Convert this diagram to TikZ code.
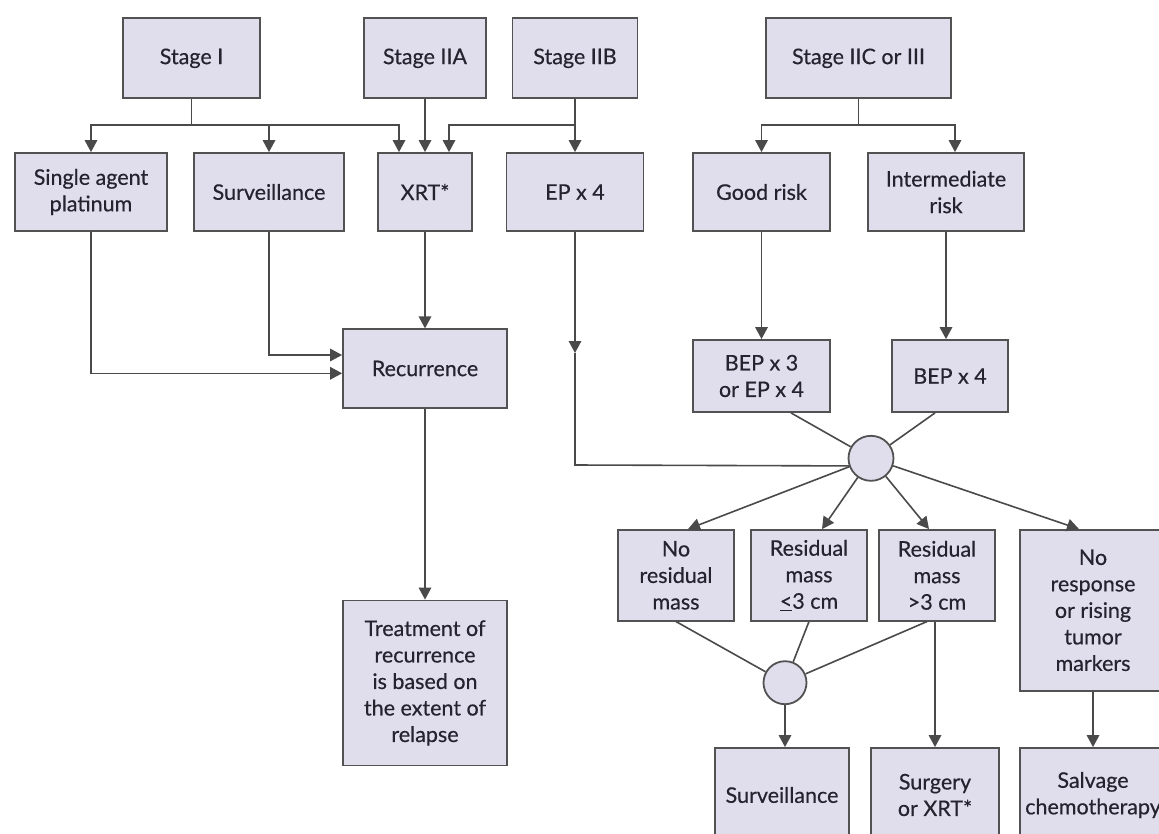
\documentclass[tikz,border=0pt]{standalone}
\usepackage{fontspec}
\setmainfont{Lato}[FakeBold=0.4]
\usetikzlibrary{arrows.meta}
\definecolor{boxfill}{HTML}{E0DDED}
\definecolor{boxline}{HTML}{525252}
\definecolor{wire}{HTML}{4A4A4A}
\definecolor{ink}{HTML}{24232E}

\begin{document}
\begin{tikzpicture}[x=1pt,y=-1pt,
  box/.style={draw=boxline, line width=1.8pt, fill=boxfill, text=ink,
    align=center, inner sep=0pt,
    font=\fontsize{21.5pt}{26.5pt}\selectfont},
  junction/.style={circle, draw=boxline, line width=1.8pt, fill=boxfill,
    inner sep=0pt, minimum size=42pt},
  wire/.style={draw=wire, line width=1.6pt},
  arr/.style={wire, -{Triangle[length=12pt,width=12.5pt]}}
]
\useasboundingbox (0,0) rectangle (1159,833);
\fill[white] (0,0) rectangle (1159,833);
\clip (0,0) rectangle (1159,833);

% --- stages ---
\node[box, minimum width=137pt, minimum height=80pt] (s1)  at (191.5,58.3) {Stage I};
\node[box, minimum width=122pt, minimum height=80pt] (s2a) at (425,58.3)   {Stage IIA};
\node[box, minimum width=125pt, minimum height=80pt] (s2b) at (575,58.3)   {Stage IIB};
\node[box, minimum width=185pt, minimum height=80pt] (s2c) at (858.5,58.3) {Stage IIC or III};

% --- first-line management ---
\node[box, minimum width=152pt, minimum height=78pt] (sap)   at (91,192)    {Single agent\\platinum};
\node[box, minimum width=150pt, minimum height=78pt] (surv1) at (269,192)   {Surveillance};
\node[box, minimum width=93.5pt, minimum height=78pt] (xrt)  at (425,192)   {XRT*};
\node[box, minimum width=137pt, minimum height=78pt] (ep)    at (575,192)   {EP x 4};
\node[box, minimum width=137pt, minimum height=78pt] (good)  at (761.5,192) {Good risk};
\node[box, minimum width=156pt, minimum height=78pt] (inter) at (946,192)   {Intermediate\\risk};

% --- recurrence branch ---
\node[box, minimum width=164pt, minimum height=78.4pt] (rec)  at (425,368.5) {Recurrence};
\node[box, minimum width=164pt, minimum height=165pt] (treat) at (425,683)
  {Treatment of\\recurrence\\is based on\\the extent of\\relapse};

% --- chemotherapy ---
\node[box, minimum width=137pt, minimum height=72pt] (bep3) at (761.5,376) {BEP x 3\\or EP x 4};
\node[box, minimum width=115.5pt, minimum height=72pt] (bep4) at (950,376) {BEP x 4};
\node[junction, minimum height=45pt] (c1) at (871,458.3) {};

% --- response ---
\node[box, minimum width=115.5pt, minimum height=90.7pt] (nores) at (676,575.3) {No\\residual\\mass};
\node[box, minimum width=116pt, minimum height=90.7pt] (res3) at (809,575.3) {Residual\\mass\\\underline{<}3 cm};
\node[box, minimum width=115.5pt, minimum height=90.7pt] (resg3) at (937,575.3) {Residual\\mass\\>3 cm};
\node[box, minimum width=146pt, minimum height=160.7pt] (noresp) at (1093,610.3)
  {No\\response\\or rising\\tumor\\markers};
\node[junction, minimum size=43pt] (c2) at (785,682.7) {};

% --- outcome ---
\node[box, minimum width=134.5pt, minimum height=94pt] (surv2) at (782,795) {Surveillance};
\node[box, minimum width=128pt, minimum height=94pt] (surg) at (935,795) {Surgery\\or XRT*};
\node[box, minimum width=146pt, minimum height=94pt] (salv) at (1093,795) {Salvage\\chemotherapy};

% --- branching buses ---
\coordinate (bus1) at (191.5,125);
\coordinate (bus2) at (575,125);
\coordinate (bus3) at (858.5,125);

\draw[wire] (s1) -- (bus1);
\draw[arr] (bus1) -| (sap);
\draw[arr] (bus1) -| (surv1);
\draw[arr] (bus1) -| ([xshift=-26pt]xrt.north);
\draw[arr] (s2a) -- (xrt);
\draw[wire] (s2b) -- (bus2);
\draw[arr] (bus2) -- (ep);
\draw[arr] (bus2) -| ([xshift=24pt]xrt.north);
\draw[wire] (s2c) -- (bus3);
\draw[arr] (bus3) -| (good);
\draw[arr] (bus3) -| ([xshift=9pt]inter.north);

% --- towards recurrence ---
\draw[arr] (sap) |- ([yshift=-4.8pt]rec.west);
\draw[arr] (surv1) |- ([yshift=13.5pt]rec.west);
\draw[arr] (xrt) -- (rec);
\draw[arr] (rec) -- (treat);

% --- chemotherapy paths ---
\draw[arr] (good) -- (bep3);
\draw[arr] (inter) -- (inter |- bep4.north);
\coordinate (epmid) at (575,353);
\coordinate (epcorner) at (575,465);
\draw[arr] (ep) -- (epmid);
\draw[wire] (epmid) -- (epcorner) -- (c1.199);
\draw[wire] ([xshift=29.5pt]bep3.south) -- (c1);
\draw[wire] ([xshift=-15pt]bep4.south) -- (c1);

% --- response assessment ---
\draw[arr] (c1) -- ([xshift=12pt]nores.north);
\draw[arr] (c1) -- ([xshift=13pt]res3.north);
\draw[arr] (c1) -- ([xshift=-8pt]resg3.north);
\draw[arr] (c1) -- ([xshift=-14pt]noresp.north);

\draw[wire] (nores.south) -- (c2);
\draw[wire] (res3.south) -- (c2);
\draw[wire] ([xshift=-10pt]resg3.south) -- (c2);
\draw[arr] (c2) -- (c2 |- surv2.north);
\draw[arr] (surg.north |- resg3.south) -- (surg.north);
\draw[arr] (noresp) -- (salv);
\end{tikzpicture}
\end{document}
